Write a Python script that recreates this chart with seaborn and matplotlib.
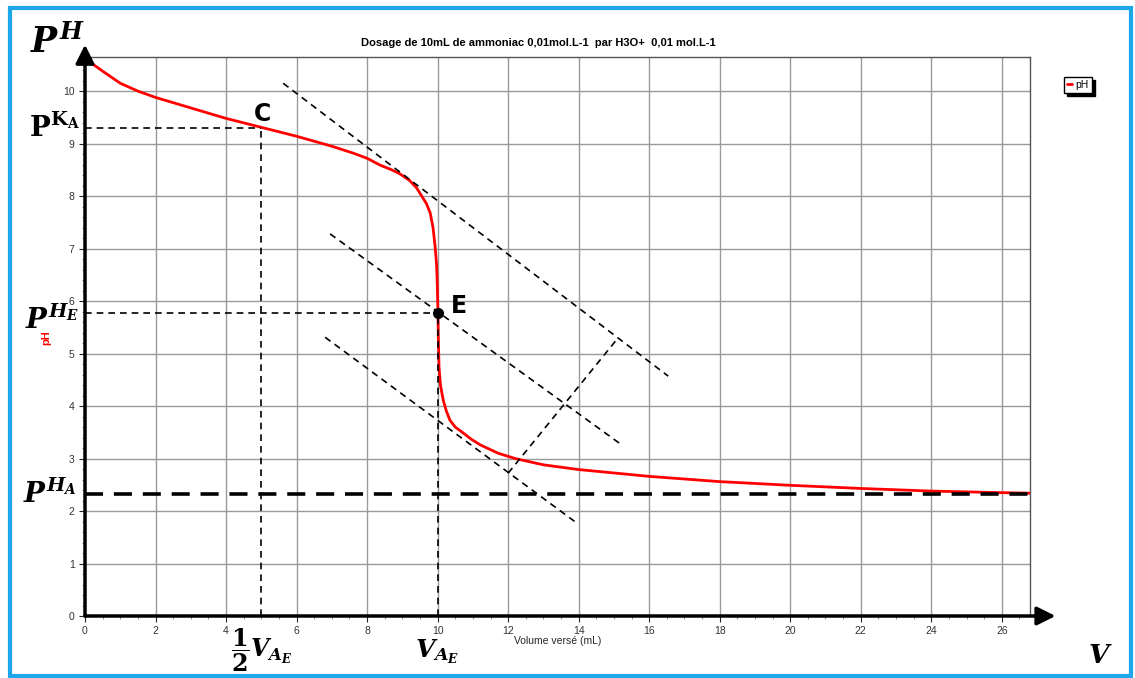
import numpy as np
import pandas as pd
import matplotlib.pyplot as plt
import seaborn as sns
from matplotlib.patches import Rectangle
from matplotlib.ticker import MultipleLocator

# Titration data
volume = [0, 0.25, 0.5, 1, 1.5, 2, 3, 4, 5, 6, 7, 7.6, 8.0, 8.37, 8.7, 8.94,
          9.2, 9.4, 9.55, 9.68, 9.79, 9.87, 9.93, 9.97, 9.99, 10.0, 10.01,
          10.02, 10.04, 10.08, 10.16, 10.25, 10.35, 10.5, 10.72, 10.95, 11.21,
          11.72, 12.2, 13, 14, 16, 18, 20, 22, 24, 26, 26.8]
ph = [10.62, 10.5, 10.38, 10.15, 10.0, 9.88, 9.68, 9.48, 9.31, 9.14, 8.95,
      8.82, 8.72, 8.59, 8.5, 8.42, 8.3, 8.16, 8.0, 7.86, 7.68, 7.4, 7.03, 6.7,
      6.34, 6.05, 5.77, 5.3, 4.74, 4.4, 4.11, 3.9, 3.73, 3.6, 3.49, 3.37, 3.26,
      3.10, 3.0, 2.88, 2.79, 2.66, 2.56, 2.49, 2.43, 2.38, 2.35, 2.34]
df = pd.DataFrame({"V": volume, "pH": ph})

# construction points
v_half, pka = 5.0, 9.3
v_eq, ph_eq = 10.0, 5.77
ph_a = 2.32
tangent_top_x, tangent_top_y = [5.62, 16.54], [10.15, 4.57]
middle_x, middle_y = [6.95, 15.18], [7.28, 3.28]
tangent_low_x, tangent_low_y = [6.81, 13.99], [5.31, 1.75]
perp_x, perp_y = [12.0, 15.12], [2.72, 5.30]

sns.set_style("white")
plt.rcParams["font.family"] = ["Liberation Sans", "DejaVu Sans"]
plt.rcParams["text.color"] = "black"
plt.rcParams["mathtext.fontset"] = "custom"
plt.rcParams["mathtext.it"] = "DejaVu Serif:italic:bold"
plt.rcParams["mathtext.rm"] = "DejaVu Serif:bold"
plt.rcParams["mathtext.bf"] = "DejaVu Serif:bold"

fig = plt.figure(figsize=(11.35, 6.78), dpi=100)
ax = fig.add_axes([85 / 1135, 62 / 678, 945 / 1135, 559 / 678])

ax.set_xlim(0, 26.8)
ax.set_ylim(0, 10.65)
ax.xaxis.set_major_locator(MultipleLocator(2))
ax.xaxis.set_minor_locator(MultipleLocator(0.5))
ax.yaxis.set_major_locator(MultipleLocator(1))
ax.yaxis.set_minor_locator(MultipleLocator(0.2))
ax.grid(True, which="major", color="#9a9a9a", lw=1)
ax.tick_params(which="major", direction="out", length=4, width=0.8,
               labelsize=7.5, labelcolor="#333333", bottom=True, left=True)
ax.tick_params(which="minor", direction="out", length=2, width=0.6,
               bottom=True, left=True, colors="#777777")
for s in ["top", "right"]:
    ax.spines[s].set_color("#555555")
    ax.spines[s].set_linewidth(1)
for s in ["left", "bottom"]:
    ax.spines[s].set_visible(False)

sns.lineplot(data=df, x="V", y="pH", color="#ff0000", lw=2, ax=ax, label="pH",
             sort=False, zorder=4)
ax.get_legend().remove()
ax.set_xlabel("Volume versé (mL)", fontsize=7.5, labelpad=0)
ax.set_ylabel("")

# dashed construction lines
dash = dict(color="black", lw=1.2, ls=(0, (4, 3)), zorder=5)
ax.plot([0, v_half], [pka, pka], **dash)
ax.plot([v_half, v_half], [0, pka], **dash)
ax.plot([0, v_eq], [ph_eq, ph_eq], **dash)
ax.plot([v_eq, v_eq], [0, ph_eq], **dash)
ax.plot(tangent_top_x, tangent_top_y, **dash)
ax.plot(middle_x, middle_y, **dash)
ax.plot(tangent_low_x, tangent_low_y, **dash)
ax.plot(perp_x, perp_y, **dash)
ax.plot([0, 26.8], [ph_a, ph_a], color="black", lw=2.6, ls=(0, (5, 3)), zorder=5)
ax.plot([v_eq], [ph_eq], "o", color="black", ms=7, zorder=6)

ax.text(5.02, 9.56, "C", fontsize=17, fontweight="bold", family="DejaVu Sans",
        ha="center", va="center", color="black")
ax.text(10.6, 5.9, "E", fontsize=17, fontweight="bold", family="DejaVu Sans",
        ha="center", va="center", color="black")

# axis arrows
arrow = dict(arrowstyle="-|>", color="black", lw=2.5, mutation_scale=28,
             shrinkA=0, shrinkB=0)
ax.annotate("", xy=(0, 1.022), xytext=(0, 0), xycoords="axes fraction",
            arrowprops=arrow, annotation_clip=False, zorder=7)
ax.annotate("", xy=(1.027, 0), xytext=(0, 0), xycoords="axes fraction",
            arrowprops=arrow, annotation_clip=False, zorder=7)

# labels around the axes
def ftext(px, py, s, **kw):
    fig.text(px / 1135, 1 - py / 678, s, ha="center", va="center", **kw)

ftext(538, 43, "Dosage de 10mL de ammoniac 0,01mol.L-1  par H3O+  0,01 mol.L-1",
      fontsize=8, fontweight="bold")
ftext(58, 42, r"$P^H$", fontsize=25)
ftext(54, 128, r"$\mathrm{P^{K_A}}$", fontsize=20)
ftext(52, 320, r"$P^{H_E}$", fontsize=20)
ftext(50, 494, r"$P^{H_A}$", fontsize=20)
ftext(46, 338, "pH", fontsize=8, color="red", fontweight="bold", rotation=90)
ftext(262, 650, r"$\dfrac{1}{2}V_{A_E}$", fontsize=17)
ftext(437, 652, r"$V_{A_E}$", fontsize=18)
ftext(1100, 656, r"$V$", fontsize=19)

fig.legend(loc="center", bbox_to_anchor=(1078 / 1135, 1 - 85 / 678),
           fontsize=7.5, frameon=True, fancybox=False,
           shadow={"color": "black", "alpha": 1},
           edgecolor="black", handlelength=0.5, handletextpad=0.3,
           borderpad=0.3, borderaxespad=0)

fig.patches.append(Rectangle((10 / 1135, 2 / 678), 1121 / 1135, 668 / 678,
                             transform=fig.transFigure, fill=False,
                             edgecolor="#1ca7ea", lw=3))

fig.savefig("out.png", dpi=100)
